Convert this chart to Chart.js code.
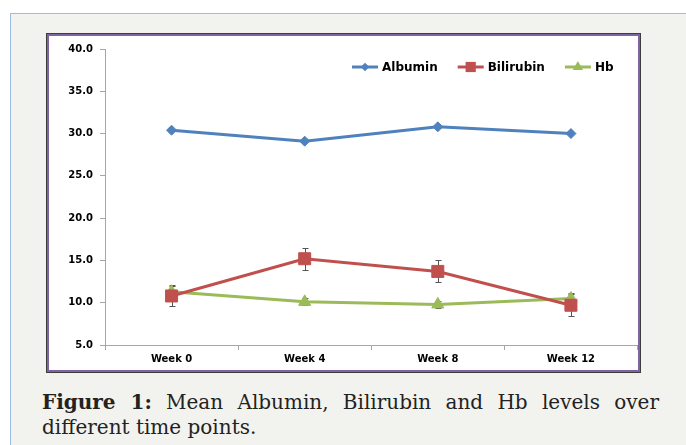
<!DOCTYPE html>
<html>
<head>
<meta charset="utf-8">
<script src="https://cdn.jsdelivr.net/npm/chart.js@4.4.1/dist/chart.umd.min.js"></script>
<style>
  html, body { margin: 0; padding: 0; background: #ffffff; width: 686px; height: 445px; overflow: hidden; }
  #frame { position: absolute; left: 10px; top: 13px; width: 690px; height: 440px; background: #f2f2ee;
           border-top: 1px solid #9dbbe3; border-left: 1px solid #9dbbe3; }
  #box { position: absolute; left: 47px; top: 34px; width: 593px; height: 338px; box-sizing: border-box;
         background: #ffffff; border: 2px solid #8064a2; box-shadow: 0 0 0 1px #3c3c3c; }
  #cv { position: absolute; left: 49px; top: 36px; }
  .cap { position: absolute; left: 42px; width: 617px; font-family: "DejaVu Serif", serif; font-size: 20px;
         line-height: 25px; color: #222; white-space: nowrap; }
  #cap1 { top: 390px; text-align: justify; text-align-last: justify; }
  #cap2 { top: 415px; text-align: left; }
</style>
</head>
<body>
<div id="frame"></div>
<div id="box"></div>
<canvas id="cv" width="598" height="334"></canvas>
<div class="cap" id="cap1"><b>Figure 1:</b> Mean Albumin, Bilirubin and Hb levels over</div>
<div class="cap" id="cap2">different time points.</div>
<script>
const categories = ["Week 0", "Week 4", "Week 8", "Week 12"];
const albumin = [30.4, 29.1, 30.8, 30.0];
const bilirubin = [10.8, 15.2, 13.7, 9.7];
const bilirubinErr = [1.2, 1.3, 1.3, 1.3];
const hb = [11.3, 10.1, 9.8, 10.5];
const hbErr = [0.8, 0.4, 0.4, 0.6];
const yTicks = [5, 10, 15, 20, 25, 30, 35, 40];

const errorBars = {
  id: 'errorBars',
  beforeDatasetsDraw(chart) {
    const ctx = chart.ctx, xs = chart.scales.x, ys = chart.scales.y;
    ctx.save();
    ctx.strokeStyle = '#555555';
    ctx.lineWidth = 1;
    chart.data.datasets.forEach(ds => {
      if (!ds.errors) return;
      ds.data.forEach((v, i) => {
        const x = Math.round(xs.getPixelForValue(i)) + 0.5;
        const yt = Math.round(ys.getPixelForValue(v + ds.errors[i])) + 0.5;
        const yb = Math.round(ys.getPixelForValue(v - ds.errors[i])) + 0.5;
        ctx.beginPath();
        ctx.moveTo(x, yt); ctx.lineTo(x, yb);
        ctx.moveTo(x - 3, yt); ctx.lineTo(x + 3, yt);
        ctx.moveTo(x - 3, yb); ctx.lineTo(x + 3, yb);
        ctx.stroke();
      });
    });
    ctx.restore();
  }
};

const lineLegend = {
  id: 'lineLegend',
  afterDraw(chart) {
    const ctx = chart.ctx;
    ctx.save();
    ctx.font = 'bold 12px "DejaVu Sans"';
    ctx.textBaseline = 'middle';
    let x = 303;
    const y = 31;
    chart.data.datasets.forEach(ds => {
      ctx.strokeStyle = ds.borderColor;
      ctx.lineWidth = 3;
      ctx.beginPath(); ctx.moveTo(x, y); ctx.lineTo(x + 26, y); ctx.stroke();
      ctx.fillStyle = ds.borderColor;
      ctx.beginPath();
      const r = ds.pointRadius * 0.85, cx = x + 13;
      if (ds.pointStyle === 'rect') { const s = r * Math.SQRT1_2; ctx.rect(cx - s, y - s, 2 * s, 2 * s); }
      else if (ds.pointStyle === 'rectRot') { ctx.moveTo(cx, y - r); ctx.lineTo(cx + r, y); ctx.lineTo(cx, y + r); ctx.lineTo(cx - r, y); ctx.closePath(); }
      else { ctx.moveTo(cx, y - r); ctx.lineTo(cx + r * 0.866, y + r / 2); ctx.lineTo(cx - r * 0.866, y + r / 2); ctx.closePath(); }
      ctx.fill();
      ctx.fillStyle = '#000000';
      ctx.fillText(ds.label, x + 30, y + 1);
      x += 30 + ctx.measureText(ds.label).width + 20;
    });
    ctx.restore();
  }
};

new Chart(document.getElementById('cv'), {
  type: 'line',
  data: {
    labels: categories,
    datasets: [
      { label: 'Albumin', data: albumin, borderColor: '#4f81bd', backgroundColor: '#4f81bd',
        pointStyle: 'rectRot', pointRadius: 5, pointBorderWidth: 1, borderWidth: 3 },
      { label: 'Bilirubin', data: bilirubin, errors: bilirubinErr, borderColor: '#c0504d', backgroundColor: '#c0504d',
        pointStyle: 'rect', pointRadius: 8.5, pointBorderWidth: 1, borderWidth: 3 },
      { label: 'Hb', data: hb, errors: hbErr, borderColor: '#9bbb59', backgroundColor: '#9bbb59',
        pointStyle: 'triangle', pointRadius: 7, pointBorderWidth: 1, borderWidth: 3 }
    ]
  },
  options: {
    responsive: false,
    animation: false,
    devicePixelRatio: 1,
    layout: { padding: { top: 12, right: 1, left: 0, bottom: 0 } },
    plugins: { legend: { display: false }, tooltip: { enabled: false } },
    elements: { line: { tension: 0 } },
    scales: {
      x: {
        offset: true,
        grid: { offset: true, drawOnChartArea: false, drawTicks: true, tickLength: 5, color: '#a6a6a6' },
        border: { color: '#a6a6a6', width: 1 },
        ticks: { color: '#000', font: { family: 'DejaVu Sans', weight: 'bold', size: 10 }, padding: 3, maxRotation: 0 },
        afterFit(s) { s.height = 25; }
      },
      y: {
        min: yTicks[0], max: yTicks[yTicks.length - 1],
        afterBuildTicks(s) { s.ticks = yTicks.map(v => ({ value: v })); },
        grid: { drawOnChartArea: false, drawTicks: true, tickLength: 5, color: '#a6a6a6' },
        border: { color: '#a6a6a6', width: 1 },
        ticks: { color: '#000', font: { family: 'DejaVu Sans', weight: 'bold', size: 10 }, padding: 7,
                 callback: v => Number(v).toFixed(1) },
        afterFit(s) { s.width = 56; }
      }
    }
  },
  plugins: [errorBars, lineLegend]
});
</script>
</body>
</html>
